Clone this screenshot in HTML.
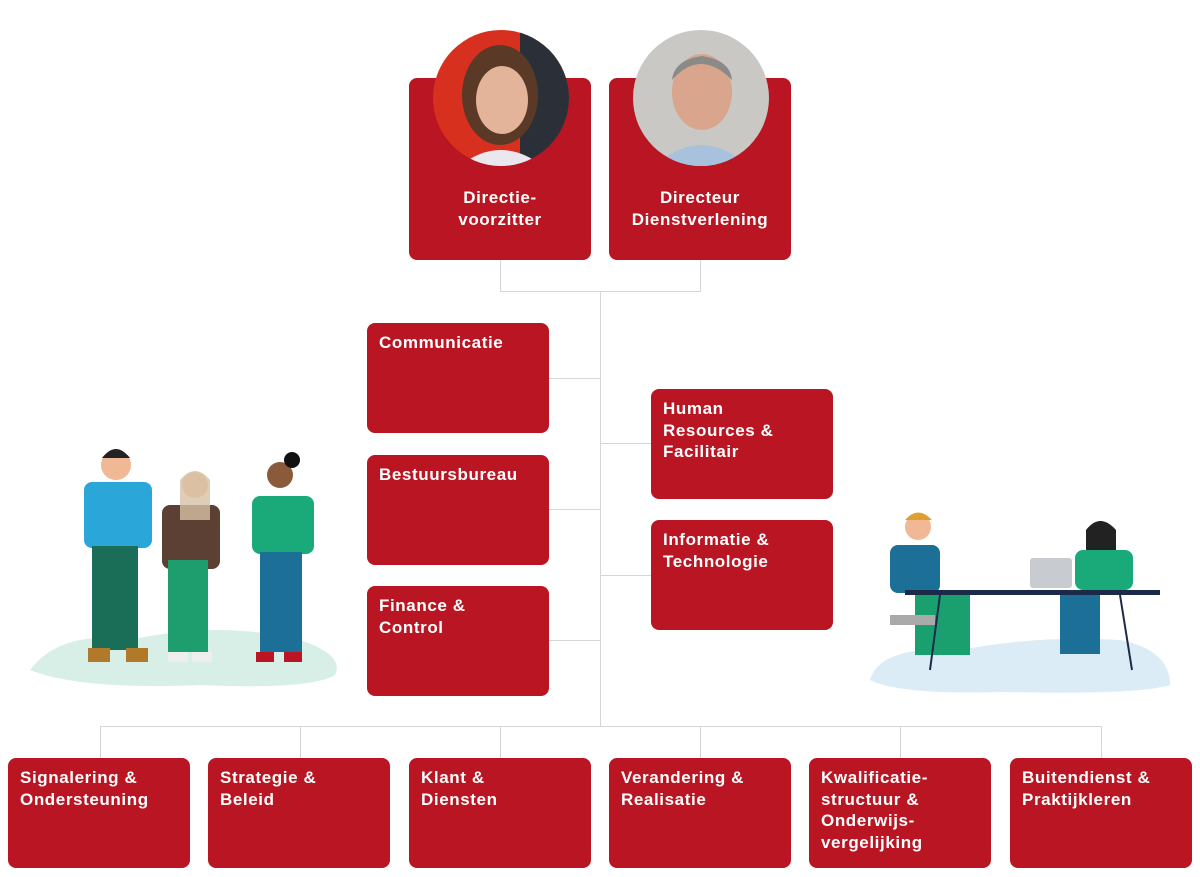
<!DOCTYPE html>
<html><head><meta charset="utf-8"><style>
body{margin:0;width:1200px;height:877px;background:#fff;position:relative;overflow:hidden;font-family:"Liberation Sans",sans-serif}
.b{position:absolute;width:182px;height:110px;background:#b91522;border-radius:8px;color:#fff;font-weight:bold;font-size:17px;line-height:21.5px;box-sizing:border-box;padding:9px 12px;letter-spacing:0.6px}
.t{height:182px;text-align:center;padding-top:109px;padding-left:4px;padding-right:4px}
.l{position:absolute;background:#d6d6d6}
</style></head><body>
<div class="l" style="left:500px;top:260px;width:1px;height:32px"></div>
<div class="l" style="left:700px;top:260px;width:1px;height:32px"></div>
<div class="l" style="left:500px;top:291px;width:201px;height:1px"></div>
<div class="l" style="left:600px;top:291px;width:1px;height:436px"></div>
<div class="l" style="left:549px;top:378px;width:51px;height:1px"></div>
<div class="l" style="left:549px;top:509px;width:51px;height:1px"></div>
<div class="l" style="left:549px;top:640px;width:51px;height:1px"></div>
<div class="l" style="left:600px;top:443px;width:51px;height:1px"></div>
<div class="l" style="left:600px;top:575px;width:51px;height:1px"></div>
<div class="l" style="left:100px;top:726px;width:1002px;height:1px"></div>
<div class="l" style="left:100px;top:726px;width:1px;height:32px"></div>
<div class="l" style="left:300px;top:726px;width:1px;height:32px"></div>
<div class="l" style="left:500px;top:726px;width:1px;height:32px"></div>
<div class="l" style="left:700px;top:726px;width:1px;height:32px"></div>
<div class="l" style="left:900px;top:726px;width:1px;height:32px"></div>
<div class="l" style="left:1101px;top:726px;width:1px;height:32px"></div>
<div class="b t" style="left:409px;top:78px">Directie-<br>voorzitter</div>
<div class="b t" style="left:609px;top:78px">Directeur<br>Dienstverlening</div>
<svg style="position:absolute;left:0;top:0" width="1200" height="877">
<defs><clipPath id="c1"><circle cx="501" cy="98" r="68"/></clipPath><clipPath id="c2"><circle cx="701" cy="98" r="68"/></clipPath></defs>
<g clip-path="url(#c1)"><rect x="430" y="28" width="145" height="140" fill="#d8301f"/><rect x="520" y="28" width="60" height="140" fill="#2b3038"/><ellipse cx="500" cy="95" rx="38" ry="50" fill="#5a3a26"/><ellipse cx="502" cy="100" rx="26" ry="34" fill="#e3b49a"/><path d="M455 170 Q500 130 548 170Z" fill="#e8e8ee"/></g>
<g clip-path="url(#c2)"><rect x="630" y="28" width="145" height="140" fill="#c9c8c4"/><ellipse cx="702" cy="92" rx="30" ry="38" fill="#d9a58c"/><path d="M672 80 Q700 48 732 80 Q730 60 702 56 Q674 60 672 80Z" fill="#8a8a88"/><path d="M650 170 Q702 120 752 170Z" fill="#a8c1dc"/></g>
<path d="M30 670 Q60 630 130 640 Q220 620 300 640 Q345 655 335 675 Q310 690 200 685 Q80 690 30 670Z" fill="#d8efe8"/>
<rect x="84" y="482" width="68" height="66" rx="8" fill="#2aa6d8"/>
<circle cx="116" cy="465" r="15" fill="#f0b894"/><path d="M102 458 Q116 440 130 458Z" fill="#222"/>
<rect x="92" y="546" width="46" height="104" fill="#1a6e58"/>
<rect x="88" y="648" width="22" height="14" fill="#b07a2a"/><rect x="126" y="648" width="22" height="14" fill="#b07a2a"/>
<rect x="162" y="505" width="58" height="64" rx="8" fill="#5c4033"/><circle cx="195" cy="485" r="13" fill="#f0b894"/><path d="M180 480 Q195 462 210 480 L210 520 L180 520Z" fill="#d6c2a6" opacity=".8"/>
<rect x="168" y="560" width="40" height="92" fill="#1e9e6e"/><rect x="168" y="652" width="20" height="10" fill="#eee"/><rect x="192" y="652" width="20" height="10" fill="#eee"/>
<rect x="252" y="496" width="62" height="58" rx="8" fill="#1aaa7a"/><circle cx="280" cy="475" r="13" fill="#8a5a3a"/><circle cx="292" cy="460" r="8" fill="#111"/>
<rect x="260" y="552" width="42" height="100" fill="#1c6f96"/><rect x="256" y="652" width="18" height="10" fill="#b91522"/><rect x="284" y="652" width="18" height="10" fill="#b91522"/>
<path d="M870 680 Q880 645 960 650 Q1040 635 1120 640 Q1170 650 1170 685 Q1140 695 1000 692 Q900 695 870 680Z" fill="#dcecf6"/>
<rect x="890" y="545" width="50" height="48" rx="8" fill="#1c6f96"/><circle cx="918" cy="527" r="13" fill="#f0b894"/><path d="M905 520 Q918 505 932 520Z" fill="#e0a030"/>
<rect x="915" y="595" width="55" height="60" fill="#1aa06e"/>
<rect x="890" y="615" width="45" height="10" fill="#aaa"/>
<rect x="1030" y="558" width="42" height="30" rx="3" fill="#c8ccd0"/>
<rect x="1075" y="550" width="58" height="40" rx="8" fill="#1aaa7a"/><circle cx="1100" cy="535" r="13" fill="#8a5a3a"/><path d="M1086 530 Q1100 512 1116 530 L1116 550 L1086 550Z" fill="#222"/>
<rect x="1060" y="592" width="40" height="62" fill="#1c6f96"/>
<rect x="905" y="590" width="255" height="5" fill="#1c2a4a"/>
<line x1="940" y1="595" x2="930" y2="670" stroke="#1c2a4a" stroke-width="2"/><line x1="1120" y1="595" x2="1132" y2="670" stroke="#1c2a4a" stroke-width="2"/>
</svg>
<div class="b" style="left:367px;top:323px">Communicatie</div>
<div class="b" style="left:367px;top:455px">Bestuursbureau</div>
<div class="b" style="left:367px;top:586px">Finance &amp;<br>Control</div>
<div class="b" style="left:651px;top:389px">Human<br>Resources &amp;<br>Facilitair</div>
<div class="b" style="left:651px;top:520px">Informatie &amp;<br>Technologie</div>
<div class="b" style="left:8px;top:758px">Signalering &amp;<br>Ondersteuning</div>
<div class="b" style="left:208px;top:758px">Strategie &amp;<br>Beleid</div>
<div class="b" style="left:409px;top:758px">Klant &amp;<br>Diensten</div>
<div class="b" style="left:609px;top:758px">Verandering &amp;<br>Realisatie</div>
<div class="b" style="left:809px;top:758px">Kwalificatie-<br>structuur &amp;<br>Onderwijs-<br>vergelijking</div>
<div class="b" style="left:1010px;top:758px">Buitendienst &amp;<br>Praktijkleren</div>
</body></html>
